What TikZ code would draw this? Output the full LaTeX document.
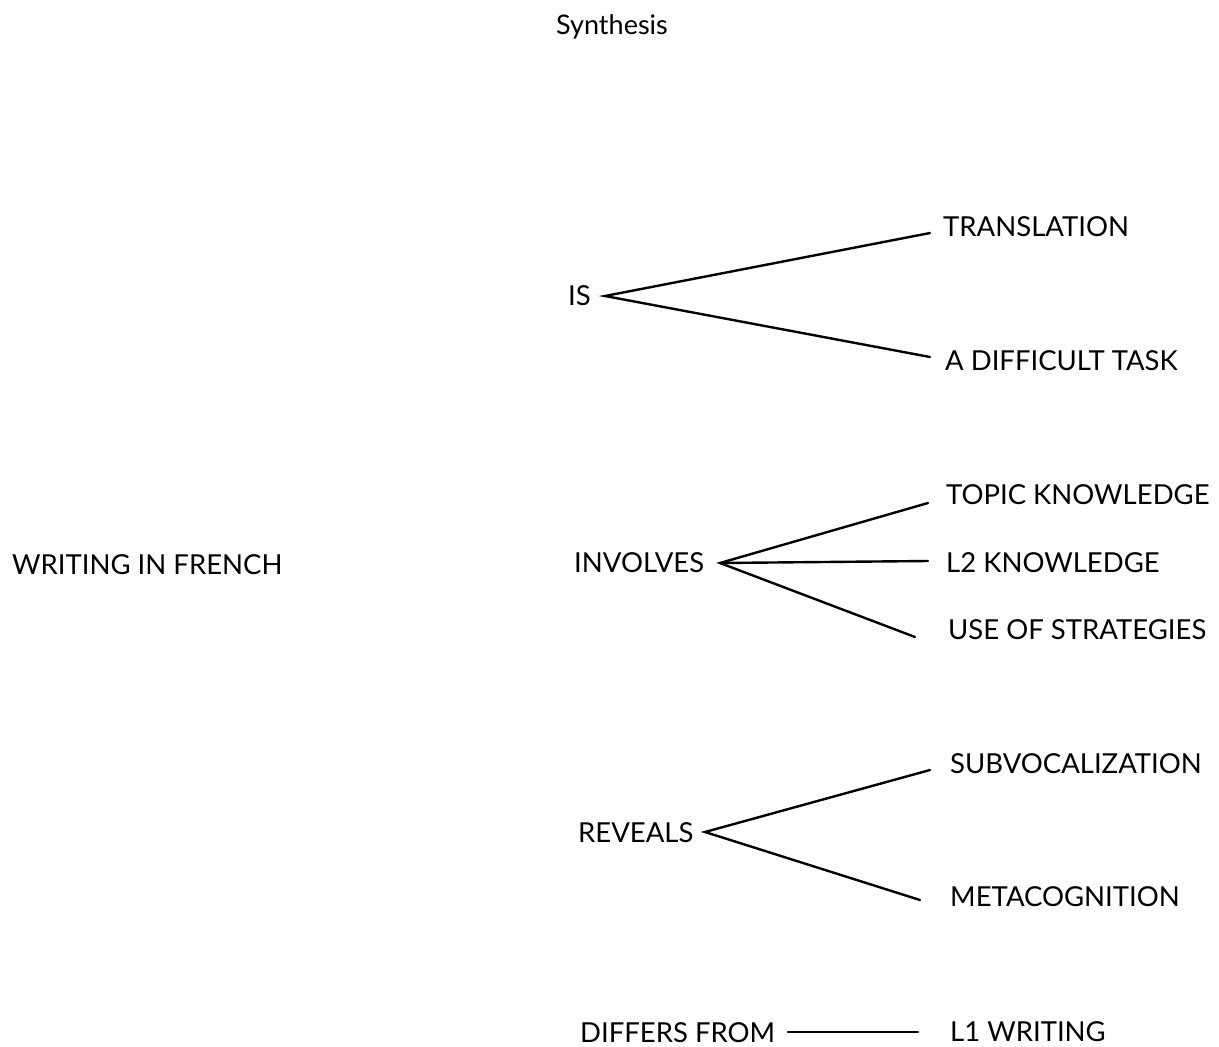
\documentclass[tikz,border=0pt]{standalone}
\usepackage{fontspec}
\setmainfont{Lato}
\begin{document}
\begin{tikzpicture}[x=1pt,y=-1pt,
  lbl/.style={anchor=west,inner sep=0pt,font=\fontsize{27.5}{32}\selectfont},
  conn/.style={line width=2.4pt,line cap=round}]
\useasboundingbox (0,0) rectangle (1219,1047);
\node[inner sep=0pt,font=\fontsize{27}{32}\selectfont] (title) at (612,27) {Synthesis};
\node[lbl] (wf) at (12,565) {WRITING IN FRENCH};
% IS
\node[lbl] (is) at (568,296) {IS};
\node[lbl] (tr) at (943,227) {TRANSLATION};
\node[lbl] (dt) at (945,361) {A DIFFICULT TASK};
\coordinate (isA) at (605,296);
\coordinate (trE) at (930,233);
\coordinate (dtE) at (930,357);
\draw[conn] (trE) -- (isA) -- (dtE);
% INVOLVES
\node[lbl] (inv) at (574,563) {INVOLVES};
\node[lbl] (tk) at (946,495) {TOPIC KNOWLEDGE};
\node[lbl] (lk) at (946,563) {L2 KNOWLEDGE};
\node[lbl] (us) at (948,630) {USE OF STRATEGIES};
\coordinate (invA) at (720,563);
\coordinate (tkE) at (928,503);
\coordinate (lkE) at (928,561);
\coordinate (usE) at (915,637);
\draw[conn] (tkE) -- (invA) -- (usE);
\draw[conn] (invA) -- (lkE);
% REVEALS
\node[lbl] (rev) at (578,833) {REVEALS};
\node[lbl] (sv) at (950,764) {SUBVOCALIZATION};
\node[lbl] (mc) at (950,897) {METACOGNITION};
\coordinate (revA) at (705,832);
\coordinate (svE) at (930,770);
\coordinate (mcE) at (920,900);
\draw[conn] (svE) -- (revA) -- (mcE);
% DIFFERS FROM
\node[lbl] (df) at (580,1033) {DIFFERS FROM};
\node[lbl] (l1) at (950,1032) {L1 WRITING};
\coordinate (dfA) at (788,1032);
\coordinate (l1E) at (918,1032);
\draw[conn] (dfA) -- (l1E);
\end{tikzpicture}
\end{document}
